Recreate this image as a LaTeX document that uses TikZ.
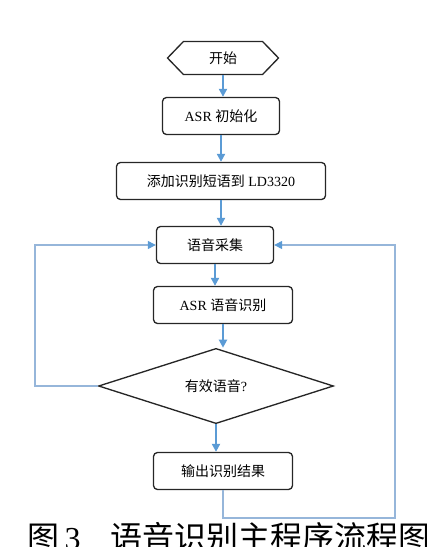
\documentclass[tikz,border=0pt]{standalone}
\usepackage{fontspec}
\setmainfont{Liberation Serif}
\newfontfamily\cjk{Noto Sans CJK SC}
\usetikzlibrary{arrows.meta, positioning, shapes.geometric, shapes.symbols}
\definecolor{flowblue}{RGB}{91,155,213}
\definecolor{loopblue}{RGB}{150,182,218}

\tikzset{
	stepbox/.style={draw=black!85, line width=1pt, rounded corners=3pt, minimum height=27.75pt, inner sep=0pt, font=\fontsize{10.5}{12}\selectfont},
	startbox/.style={signal, signal to=west and east, signal pointer angle=92, draw=black!85, line width=1pt, minimum width=83.25pt, minimum height=24.75pt, inner sep=0pt, font=\fontsize{10.5}{12}\selectfont},
	testbox/.style={diamond, draw=black!85, line width=1pt, minimum width=176.25pt, minimum height=55.5pt, inner sep=0pt, font=\fontsize{10.5}{12}\selectfont},
	flow/.style={draw=flowblue, line width=1.5pt, -{Triangle[length=6pt,width=6pt]}},
	loopline/.style={draw=loopblue, line width=0.8pt, -{Triangle[length=6pt,width=6pt,color=flowblue]}}
}

\begin{document}
\begin{tikzpicture}[x=0.75pt, y=-0.75pt]
	\useasboundingbox (0,0) rectangle (427,547);
	
	% boxes
	\node[startbox] (start) at (223,58) {\cjk 开始};
	\node[stepbox, minimum width=87.75pt] (init) at (221,116) {ASR {\cjk 初始化}};
	\node[stepbox, minimum width=156.75pt] (phrase) at (221,181) {{\cjk 添加识别短语到} LD3320};
	\node[stepbox, minimum width=87.75pt] (collect) at (215,245) {\cjk 语音采集};
	\node[stepbox, minimum width=104.25pt] (recog) at (223,305) {ASR {\cjk 语音识别}};
	\node[testbox] (valid) at (216,386) {{\cjk 有效语音}?};
	\node[stepbox, minimum width=104.25pt] (output) at (223,471) {\cjk 输出识别结果};
	
	% main flow
	\draw[flow] (start.south) -- (start.south |- init.north);
	\draw[flow] (init.south) -- (init.south |- phrase.north);
	\draw[flow] (phrase.south) -- (phrase.south |- collect.north);
	\draw[flow] (collect.south) -- (collect.south |- recog.north);
	\draw[flow] (recog.south) -- (recog.south |- valid.north);
	\draw[flow] (valid.south) -- (valid.south |- output.north);
	
	% loops back to collect
	\coordinate (leftturn) at (35,386);
	\coordinate (rightturn) at (395,518);
	\draw[loopline] (valid.west) -- (leftturn) |- (collect.west);
	\draw[loopline] (output.south) |- (rightturn) |- (collect.east);
	
	% caption
	\node[anchor=base west, inner sep=0pt, font=\fontsize{24}{24}\selectfont] (caption) at (27,549) {{\cjk 图}\,3\hspace{0.95em}{\cjk 语音识别主程序流程图}};
\end{tikzpicture}
\end{document}
